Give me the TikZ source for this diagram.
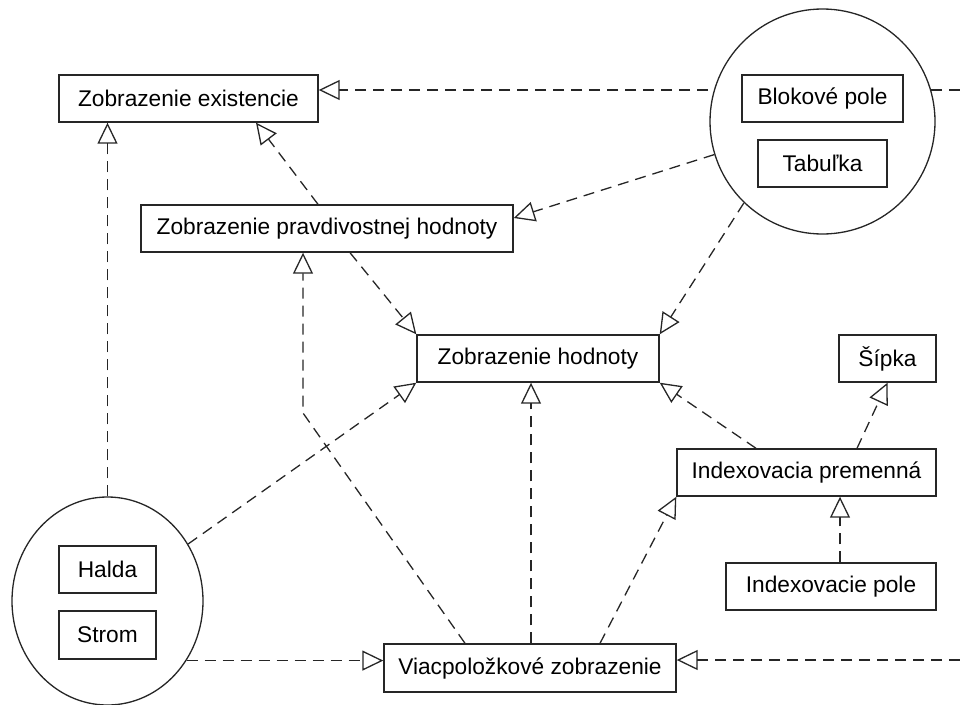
\documentclass[tikz,border=0pt]{standalone}
\usepackage{fontspec}
\setmainfont{Liberation Sans}
\usetikzlibrary{arrows.meta,shapes.geometric,backgrounds,calc}

\begin{document}
\begin{tikzpicture}[x=1pt,y=-1pt,
  every node/.style={font=\fontsize{22.7}{27}\selectfont},
  box/.style={draw=black!85, line width=1.4pt, fill=white, rectangle,
    inner sep=0pt, minimum height=47pt},
  group/.style={draw=black!85, line width=1.3pt, fill=white, inner sep=0pt},
  real/.style={draw=black!85, line width=1.3pt, dash pattern=on 11pt off 7pt,
    -{Triangle[open, length=21pt, width=20pt, line width=1.3pt]}},
  link/.style={draw=black!85, line width=1.3pt, dash pattern=on 11pt off 7pt}]

\useasboundingbox (0,0) rectangle (960,704);

% grouping circles
\node[group, circle, minimum size=225pt] (ctr) at (822.5,121.5) {};
\node[group, ellipse, minimum width=191pt, minimum height=208pt] (cbl) at (107.5,601) {};

% types
\node[box, minimum width=259pt] (ze)    at (188.5,98.5) {Zobrazenie existencie};
\node[box, minimum width=372pt] (zph)   at (327,228.5)  {Zobrazenie pravdivostnej hodnoty};
\node[box, minimum width=242pt] (zh)    at (538,358.5)  {Zobrazenie hodnoty};
\node[box, minimum width=97pt]  (sip)   at (887.5,358.5){Šípka};
\node[box, minimum width=259pt] (ip)    at (806.5,472.5){Indexovacia premenná};
\node[box, minimum width=210pt] (ipole) at (831,586.5)  {Indexovacie pole};
\node[box, minimum width=292pt, minimum height=48pt] (viac) at (530,668) {Viacpoložkové zobrazenie};

% members of the groups
\node[box, minimum width=161pt] (bp)    at (822.5,98.5)  {Blokové pole};
\node[box, minimum width=129pt] (tab)   at (822.5,163.5) {Tabuľka};
\node[box, minimum width=97pt]  (halda) at (107.5,569.5) {Halda};
\node[box, minimum width=97pt, minimum height=48pt] (strom) at (107.5,635) {Strom};

% free ends at the right border
\coordinate (r1) at (960,90);
\coordinate (r2) at (960,660);
\coordinate (k6) at (303,413);

\begin{pgfonlayer}{background}
  \draw[real] (r1) -- (r1 -| ze.east);
  \draw[real] (r2) -- (r2 -| viac.east);
  \draw[real] (ctr.197) -- ([yshift=10.5pt]zph.east);
  \draw[real] (ctr.226) -- (zh.north east);
  \draw[real] ([xshift=-9pt]zph.north) -- ([xshift=67.5pt]ze.south);
  \draw[real] ([xshift=23pt]zph.south) -- (zh.north west);
  \draw[real] ([xshift=-65pt]viac.north) -- (k6) -- (k6 |- zph.south);
  \draw[real] (cbl.north) -- (cbl.north |- ze.south);
  \draw[real] (cbl) -- (zh.south west);
  \draw[real] (cbl.-37) -- (cbl.-37 -| viac.west);
  \draw[real] ([xshift=1pt]viac.north) -- ([xshift=1pt]viac.north |- zh.south);
  \draw[real] ([xshift=70pt]viac.north) -- (ip.south west);
  \draw[real] ([xshift=-50.5pt]ip.north) -- (zh.south east);
  \draw[real] ([xshift=50.5pt]ip.north) -- (sip.south);
  \draw[real] ([xshift=9pt]ipole.north) -- ([xshift=9pt]ipole.north |- ip.south);
\end{pgfonlayer}
\end{tikzpicture}
\end{document}
